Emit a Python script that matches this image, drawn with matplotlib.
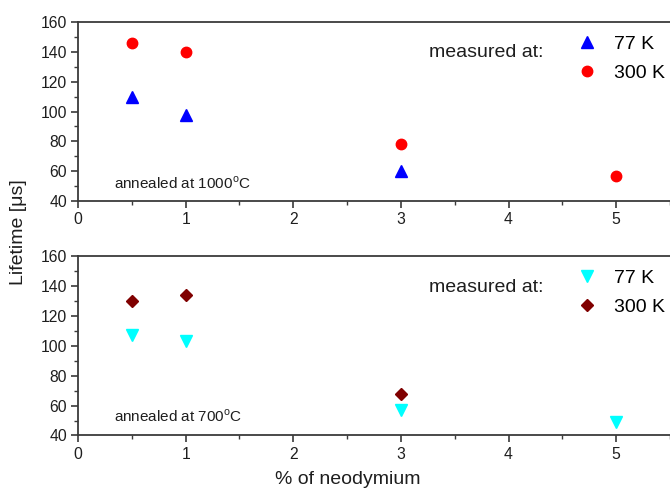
import matplotlib.pyplot as plt
from matplotlib.lines import Line2D
from matplotlib.ticker import MultipleLocator

plt.rcParams["font.family"] = ["Liberation Sans", "DejaVu Sans"]

# lifetimes (us) vs Nd concentration (%)
nd_1000_77 = [0.5, 1, 3]
tau_1000_77 = [110, 98, 60]
nd_1000_300 = [0.5, 1, 3, 5]
tau_1000_300 = [146, 140, 78, 57]

nd_700_77 = [0.5, 1, 3, 5]
tau_700_77 = [107, 103, 57, 49]
nd_700_300 = [0.5, 1, 3]
tau_700_300 = [130, 134, 68]

AXIS_COLOR = "#3a3a3a"
TEXT_COLOR = "#1e1e1e"


def style_axes(ax):
    ax.set_xlim(0, 5.5)
    ax.set_ylim(40, 160)
    ax.xaxis.set_major_locator(MultipleLocator(1))
    ax.xaxis.set_minor_locator(MultipleLocator(0.5))
    ax.yaxis.set_major_locator(MultipleLocator(20))
    ax.yaxis.set_minor_locator(MultipleLocator(10))
    ax.tick_params(which="both", direction="out", colors=AXIS_COLOR,
                   labelcolor=TEXT_COLOR, labelsize=11.3, top=False, right=False)
    ax.tick_params(which="major", length=5, width=1.2, pad=3)
    ax.tick_params(which="minor", length=3, width=1.0)
    for side in ("left", "bottom", "top"):
        ax.spines[side].set_color(AXIS_COLOR)
        ax.spines[side].set_linewidth(1.3)
    ax.spines["right"].set_visible(False)


def add_legend(ax, handles, y_text):
    ax.text(0.593, y_text, "measured at:", transform=ax.transAxes,
            fontsize=14, color=TEXT_COLOR, va="center", ha="left")
    ax.legend(handles=handles, loc="upper left", bbox_to_anchor=(0.81, 1.025),
              frameon=False, fontsize=14, handlelength=1.2, handletextpad=0.8,
              labelspacing=0.6)


fig = plt.figure(figsize=(6.7, 4.88), dpi=100)
ax_top = fig.add_axes([0.1164, 0.588, 0.8836, 0.3669])
ax_bot = fig.add_axes([0.1164, 0.1076, 0.8836, 0.3678])

# top panel: annealed at 1000 C
ax_top.plot(nd_1000_77, tau_1000_77, ls="none", marker="^", ms=8.5,
            color="#0000ff", mec="#0000ff")
ax_top.plot(nd_1000_300, tau_1000_300, ls="none", marker="o", ms=7.5,
            color="#ff0000", mec="#ff0000")
style_axes(ax_top)
ax_top.text(0.06, 0.10, "annealed at 1000$^{\\mathregular{o}}$C",
            transform=ax_top.transAxes, fontsize=11, color=TEXT_COLOR,
            va="center")
add_legend(ax_top, [
    Line2D([], [], ls="none", marker="^", ms=8.5, color="#0000ff", label="77 K"),
    Line2D([], [], ls="none", marker="o", ms=7.5, color="#ff0000", label="300 K"),
], 0.83)

# bottom panel: annealed at 700 C
ax_bot.plot(nd_700_77, tau_700_77, ls="none", marker="v", ms=8.5,
            color="#00ffff", mec="#00ffff")
ax_bot.plot(nd_700_300, tau_700_300, ls="none", marker="D", ms=6.5,
            color="#800000", mec="#800000")
style_axes(ax_bot)
ax_bot.text(0.06, 0.105, "annealed at 700$^{\\mathregular{o}}$C",
            transform=ax_bot.transAxes, fontsize=11, color=TEXT_COLOR,
            va="center")
add_legend(ax_bot, [
    Line2D([], [], ls="none", marker="v", ms=8.5, color="#00ffff", label="77 K"),
    Line2D([], [], ls="none", marker="D", ms=6.5, color="#800000", label="300 K"),
], 0.825)

fig.text(0.519, 0.018, "% of neodymium", fontsize=14, color=TEXT_COLOR,
         ha="center", va="center")
fig.text(0.027, 0.525, "Lifetime [\u03bcs]", rotation=90, fontsize=14,
         color=TEXT_COLOR, ha="center", va="center")

fig.savefig("out.png", dpi=100)
